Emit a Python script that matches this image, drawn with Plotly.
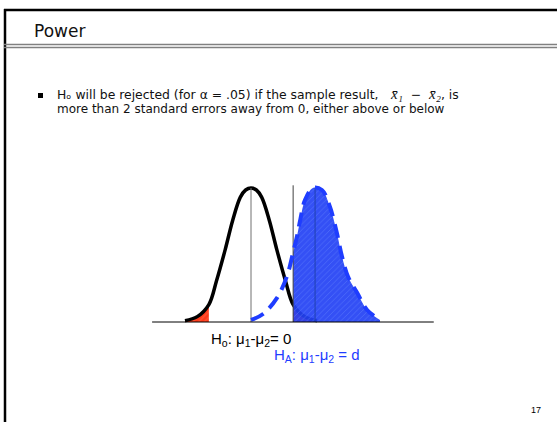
import plotly.graph_objects as go

# ---- data (x in standard errors, height relative to peak) ----
h0_z = [-3.07, -2.5, -1.96, -1.6, -1.2, -0.85, -0.5, -0.25, 0.0, 0.25, 0.5, 0.85, 1.2, 1.6, 1.96, 2.5, 3.07]
h0_h = [0.01, 0.04, 0.13, 0.31, 0.54, 0.76, 0.93, 0.985, 1.0, 0.985, 0.93, 0.76, 0.54, 0.31, 0.13, 0.04, 0.01]

ha_z = [0.0, 0.56, 1.21, 1.67, 1.96, 2.14, 2.3, 2.51, 2.88, 3.3, 3.67, 4.0, 4.23, 4.51, 4.93, 5.4, 6.0]
ha_h = [0.015, 0.06, 0.18, 0.34, 0.52, 0.64, 0.77, 0.91, 1.0, 0.985, 0.86, 0.66, 0.49, 0.34, 0.22, 0.09, 0.015]

mu0 = 0.0      # H0 mean
muA = 2.98     # HA mean (d)
crit = 1.96    # critical value
line_top = 1.02
axis_min, axis_max = -4.6, 8.5

SERIF_OPEN = "<span style=\"font-family:'Liberation Serif';font-style:italic;font-size:15px\">"
title_text = "Power"
bullet_line1 = "Hₒ will be rejected (for α = .05) if the sample result,"
bullet_math = SERIF_OPEN + "x̄₁</span>  −  " + SERIF_OPEN + "x̄₂</span>, is"
bullet_line2 = "more than 2 standard errors away from 0, either above or below"
label_h0 = "H<sub>o</sub>: μ<sub>1</sub>-μ<sub>2</sub>= 0"
label_ha = "H<sub>A</sub>: μ<sub>1</sub>-μ<sub>2</sub> = d"
page_no = "17"

W, H = 557, 422
RED = "#ff3a1a"
BLUE = "#1f3dff"

fig = go.Figure()

left_idx = [i for i, z in enumerate(h0_z) if z <= -crit]
right_idx = [i for i, z in enumerate(h0_z) if z >= crit]
blue_idx = [i for i, z in enumerate(ha_z) if z >= crit]

# red tails
for idx in (left_idx, right_idx):
    fig.add_trace(go.Scatter(
        x=[h0_z[i] for i in idx], y=[h0_h[i] for i in idx],
        mode="lines", line=dict(width=0, shape="spline", color=RED),
        fill="tozeroy", fillcolor=RED,
        fillpattern=dict(shape="/", fgcolor="#ff7050", bgcolor=RED, size=4, solidity=0.3),
        hoverinfo="skip"))

# H0 curve
fig.add_trace(go.Scatter(x=h0_z, y=h0_h, mode="lines",
                         line=dict(color="black", width=3.5, shape="spline"),
                         hoverinfo="skip"))

# blue power area
fig.add_trace(go.Scatter(
    x=[ha_z[i] for i in blue_idx], y=[ha_h[i] for i in blue_idx],
    mode="lines", line=dict(width=0, shape="spline", color="#3355ff"),
    fill="tozeroy", fillcolor="rgba(35,65,245,0.92)",
    fillpattern=dict(shape="/", fgcolor="rgba(110,140,255,0.95)", bgcolor="rgba(35,65,245,0.92)",
                     size=4, solidity=0.2),
    hoverinfo="skip"))

# vertical lines
fig.add_trace(go.Scatter(x=[mu0, mu0], y=[0, 1.0], mode="lines",
                         line=dict(color="#707070", width=1), hoverinfo="skip"))
fig.add_trace(go.Scatter(x=[crit, crit], y=[0, line_top], mode="lines",
                         line=dict(color="#404040", width=1), hoverinfo="skip"))
fig.add_trace(go.Scatter(x=[muA, muA], y=[0, 1.0], mode="lines",
                         line=dict(color="#2040b0", width=1), hoverinfo="skip"))

# HA dashed curve
fig.add_trace(go.Scatter(x=ha_z, y=ha_h, mode="lines",
                         line=dict(color=BLUE, width=4, dash="14px,8px", shape="spline"),
                         hoverinfo="skip"))

# baseline
fig.add_trace(go.Scatter(x=[axis_min, axis_max], y=[0, 0], mode="lines",
                         line=dict(color="black", width=1), hoverinfo="skip"))

# axes mapped so that z=0 -> px 251, 21.5 px per SE; h=0 -> py 322, 134 px per unit
px0, sx = 251, 21.5
py0, sy = 322, 134
fig.update_xaxes(range=[-px0 / sx, (W - px0) / sx], visible=False, domain=[0, 1])
fig.update_yaxes(range=[-(H - py0) / sy, py0 / sy], visible=False, domain=[0, 1])

def px(x):
    return x / W

def py(y):
    return 1 - y / H

shapes = [
    # slide frame
    dict(type="line", xref="paper", yref="paper", x0=px(4), x1=px(W + 5), y0=py(10), y1=py(10),
         line=dict(color="black", width=2.5)),
    dict(type="line", xref="paper", yref="paper", x0=px(5), x1=px(5), y0=py(9), y1=py(H + 5),
         line=dict(color="black", width=2.5)),
    dict(type="line", xref="paper", yref="paper", x0=px(4), x1=px(W + 5), y0=py(44.5), y1=py(44.5),
         line=dict(color="#808080", width=1.5)),
    dict(type="line", xref="paper", yref="paper", x0=px(4), x1=px(W + 5), y0=py(47.5), y1=py(47.5),
         line=dict(color="#808080", width=1.5)),
    # bullet square
    dict(type="rect", xref="paper", yref="paper", x0=px(38), x1=px(43), y0=py(98), y1=py(93),
         fillcolor="black", line=dict(width=0)),
]

text_font = "DejaVu Sans"
annotations = [
    dict(text=title_text, x=px(32), y=py(31), xanchor="left", yanchor="middle",
         font=dict(family=text_font, size=17, color="#111")),
    dict(text=bullet_line1, x=px(55), y=py(94.5), xanchor="left", yanchor="middle",
         font=dict(family=text_font, size=12.4, color="#111")),
    dict(text=bullet_math, x=px(388), y=py(94), xanchor="left", yanchor="middle",
         font=dict(family=text_font, size=12.4, color="#111")),
    dict(text=bullet_line2, x=px(55), y=py(108.5), xanchor="left", yanchor="middle",
         font=dict(family=text_font, size=12, color="#111")),
    dict(text=label_h0, x=px(209), y=py(339), xanchor="left", yanchor="middle",
         font=dict(family="Liberation Sans", size=15, color="black")),
    dict(text=label_ha, x=px(272), y=py(355), xanchor="left", yanchor="middle",
         font=dict(family="Liberation Sans", size=15, color=BLUE)),
    dict(text=page_no, x=px(536), y=py(410), xanchor="center", yanchor="middle",
         font=dict(family="Liberation Sans", size=9, color="black")),
]
for a in annotations:
    a.update(xref="paper", yref="paper", showarrow=False)

fig.update_layout(width=W, height=H, margin=dict(l=0, r=0, t=0, b=0),
                  paper_bgcolor="white", plot_bgcolor="white", showlegend=False,
                  shapes=shapes, annotations=annotations)

fig.write_html("out.html", config={"displayModeBar": False},
               post_script="document.body.style.margin='0';document.body.style.overflow='hidden';")
